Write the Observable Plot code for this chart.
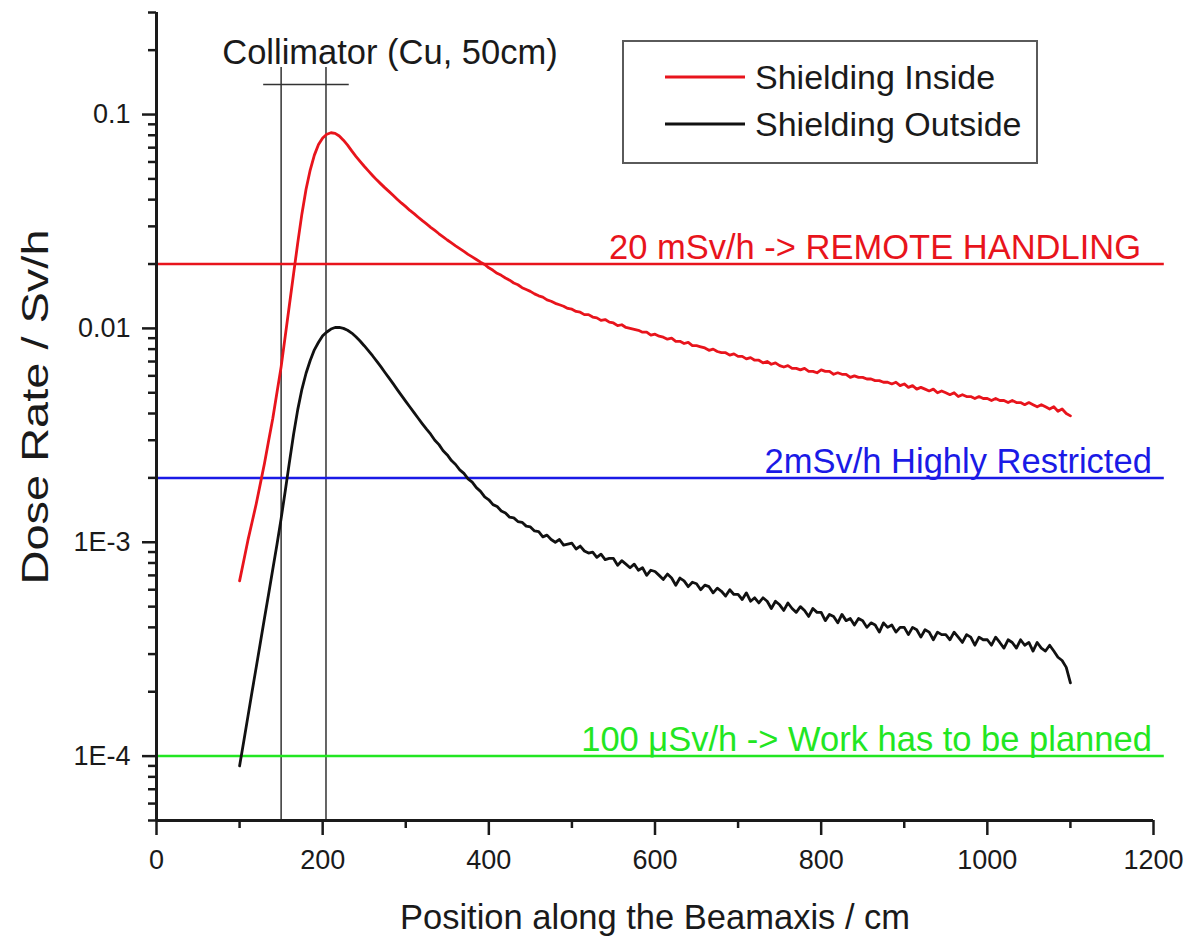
<!DOCTYPE html>
<html>
<head>
<meta charset="utf-8">
<script src="https://cdn.jsdelivr.net/npm/d3@7"></script>
<script src="https://cdn.jsdelivr.net/npm/@observablehq/plot@0.6"></script>
<style>
  html, body { margin: 0; padding: 0; background: #fff; overflow: hidden; }
  #chart svg { display: block; }
</style>
</head>
<body>
<div id="chart"></div>
<script>
// Sampling positions along the beam axis (cm)
const positions = [
  100,105,110,115,120,125,130,135,140,145,150,155,160,165,170,175,180,185,190,195,
  200,205,210,215,220,225,230,235,240,245,250,255,260,265,270,275,280,285,290,295,
  300,305,310,315,320,325,330,335,340,345,350,355,360,365,370,375,380,385,390,395,
  400,405,410,415,420,425,430,435,440,445,450,455,460,465,470,475,480,485,490,495,
  500,505,510,515,520,525,530,535,540,545,550,555,560,565,570,575,580,585,590,595,
  600,605,610,615,620,625,630,635,640,645,650,655,660,665,670,675,680,685,690,695,
  700,705,710,715,720,725,730,735,740,745,750,755,760,765,770,775,780,785,790,795,
  800,805,810,815,820,825,830,835,840,845,850,855,860,865,870,875,880,885,890,895,
  900,905,910,915,920,925,930,935,940,945,950,955,960,965,970,975,980,985,990,995,
  1000,1005,1010,1015,1020,1025,1030,1035,1040,1045,1050,1055,1060,1065,1070,1075,1080,1085,1090,1095,
  1100
];

// Dose rate (Sv/h) with the shielding inside
const insideDose = [
  0.00066,0.00082,0.00102,0.00124,0.00151,0.00188,0.00234,0.00299,0.00380,0.00501,
  0.00661,0.00923,0.0129,0.0180,0.0251,0.0343,0.0447,0.0550,0.0646,0.0724,
  0.0776,0.0809,0.0822,0.0817,0.0794,0.0759,0.0719,0.0676,0.0638,0.0604,
  0.0573,0.0545,0.0519,0.0495,0.0474,0.0454,0.0436,0.0418,0.0401,0.0385,
  0.0371,0.0356,0.0344,0.0331,0.0319,0.0308,0.0297,0.0287,0.0277,0.0268,
  0.0259,0.0251,0.0243,0.0236,0.0229,0.0222,0.0216,0.0210,0.0204,0.0199,
  0.0192,0.0187,0.0181,0.0177,0.0172,0.0168,0.0163,0.0160,0.0155,0.0152,
  0.0149,0.0145,0.0142,0.0140,0.0136,0.0134,0.0131,0.0129,0.0127,0.0124,
  0.0123,0.0120,0.0119,0.0116,0.0116,0.0113,0.0112,0.0109,0.0110,0.0107,
  0.0106,0.0103,0.0104,0.0101,0.0100,0.0099,0.0098,0.0096,0.0096,0.0093,
  0.0094,0.0092,0.0091,0.0089,0.0090,0.0087,0.0087,0.0085,0.0086,0.0083,
  0.0083,0.0082,0.0081,0.0079,0.0080,0.0078,0.0077,0.0077,0.0075,0.0076,
  0.0074,0.0074,0.0072,0.0073,0.0071,0.0071,0.0069,0.0070,0.0068,0.0069,
  0.0067,0.0066,0.0067,0.0065,0.0065,0.0064,0.0065,0.0063,0.0063,0.0062,
  0.0064,0.0063,0.0063,0.0061,0.0062,0.0061,0.0061,0.0059,0.0060,0.0059,
  0.0059,0.0058,0.0058,0.0057,0.0057,0.0056,0.0056,0.0055,0.0056,0.0054,
  0.0055,0.0053,0.0054,0.0052,0.0053,0.0052,0.0051,0.0052,0.0050,0.0051,
  0.0050,0.0049,0.0050,0.0048,0.0049,0.0048,0.0048,0.0047,0.0048,0.0047,
  0.0047,0.0046,0.0047,0.0046,0.0046,0.0045,0.0046,0.0045,0.0045,0.0044,
  0.0045,0.0044,0.0043,0.0044,0.0043,0.0042,0.0043,0.0041,0.0042,0.0040,
  0.0039
];

// Dose rate (Sv/h) with the shielding outside
const outsideDose = [
  0.000090,0.000117,0.000153,0.000200,0.000260,0.000339,0.000442,0.000575,0.000750,0.000977,
  0.00129,0.00174,0.00237,0.00320,0.00417,0.00519,0.00617,0.00708,0.00794,0.00861,
  0.00923,0.00962,0.00993,0.0101,0.0101,0.0100,0.00980,0.00951,0.00914,0.00873,
  0.00830,0.00787,0.00745,0.00703,0.00662,0.00622,0.00585,0.00550,0.00516,0.00485,
  0.00456,0.00429,0.00404,0.00380,0.00358,0.00338,0.00320,0.00300,0.00286,0.00268,
  0.00256,0.00241,0.00231,0.00218,0.00210,0.00198,0.00191,0.00180,0.00173,0.00163,
  0.00158,0.00150,0.00147,0.00140,0.00137,0.00131,0.00130,0.00125,0.00124,0.00119,
  0.00118,0.00113,0.00112,0.00106,0.00108,0.00103,0.00100,0.00103,0.00097,0.00098,
  0.00099,0.00093,0.00096,0.00091,0.00089,0.00090,0.00085,0.00088,0.00083,0.00084,
  0.00084,0.00078,0.00082,0.00079,0.00076,0.00079,0.00074,0.00076,0.00070,0.00074,
  0.00073,0.00070,0.00067,0.00071,0.00068,0.00063,0.00068,0.00066,0.00062,0.00065,
  0.00064,0.00060,0.00063,0.00062,0.00058,0.00061,0.00059,0.00056,0.00060,0.00057,
  0.00057,0.00054,0.00058,0.00053,0.00055,0.00052,0.00055,0.00053,0.00049,0.00053,
  0.00051,0.00048,0.00052,0.00049,0.00047,0.00050,0.00048,0.00045,0.00049,0.00047,
  0.00047,0.00043,0.00046,0.00045,0.00042,0.00046,0.00043,0.00044,0.00041,0.00044,
  0.00043,0.00040,0.00042,0.00041,0.00038,0.00042,0.00040,0.00041,0.00038,0.00040,
  0.00040,0.00037,0.00040,0.00039,0.00036,0.00039,0.00038,0.00035,0.00038,0.00037,
  0.00037,0.00035,0.00038,0.00036,0.00034,0.00037,0.00036,0.00033,0.00036,0.00035,
  0.00035,0.00033,0.00036,0.00034,0.00032,0.00035,0.00034,0.00032,0.00035,0.00033,
  0.00034,0.00031,0.00034,0.00032,0.00031,0.00033,0.00031,0.00029,0.00028,0.00026,
  0.00022
];

const seriesNames = ["Shielding Inside", "Shielding Outside"];
const seriesColors = ["#e8141c", "#111111"];

// Dose-rate limits drawn as horizontal reference lines
const limitValues = [0.02, 0.002, 0.0001];
const limitLabels = ["20 mSv/h -> REMOTE HANDLING", "2mSv/h Highly Restricted", "100 \u03bcSv/h -> Work has to be planned"];
const limitColors = ["#e8141c", "#1a1ae6", "#22e622"];
const limitLabelEnds = [1185, 1198, 1198];
const limitSpan = [0, 1213];

// Copper collimator (50 cm) marker
const collimatorEdges = [150, 204];
const collimatorTop = 0.166;
const collimatorBar = {y: 0.138, x1: 129, x2: 232};
const collimatorLabel = {text: "Collimator (Cu, 50cm)", x: 281, y: 0.173};

// Axes
const xDomain = [0, 1200];
const yDomain = [5e-5, 0.3];
const xMajorTicks = [0, 200, 400, 600, 800, 1000, 1200];
const xMinorTicks = [100, 300, 500, 700, 900, 1100];
const yMajorTicks = [0.1, 0.01, 0.001, 0.0001];
const yTickLabels = ["0.1", "0.01", "1E-3", "1E-4"];
const yMinorTicks = [
  0.3, 0.2,
  0.09, 0.08, 0.07, 0.06, 0.05, 0.04, 0.03, 0.02,
  0.009, 0.008, 0.007, 0.006, 0.005, 0.004, 0.003, 0.002,
  0.0009, 0.0008, 0.0007, 0.0006, 0.0005, 0.0004, 0.0003, 0.0002,
  0.00009, 0.00008, 0.00007, 0.00006, 0.00005
];
const xTitle = "Position along the Beamaxis / cm";
const yTitle = "Dose Rate / Sv/h";

const FONT = "'Liberation Sans', Arial, Helvetica, sans-serif";
const INK = "#1a1a1a";
const LABEL_SIZE = 34.5;

const insideRows = positions.map((p, i) => ({position: p, dose: insideDose[i]}));
const outsideRows = positions.map((p, i) => ({position: p, dose: outsideDose[i]}));

// Legend box in the upper right of the frame
function legend() {
  const g = d3.create("svg:g").attr("font-family", FONT).attr("text-anchor", "start");
  g.append("rect")
    .attr("x", 623).attr("y", 41).attr("width", 414).attr("height", 122)
    .attr("fill", "#fff").attr("stroke", "#5a5a5a").attr("stroke-width", 2);
  seriesNames.forEach((name, i) => {
    const cy = 77 + i * 47;
    g.append("line")
      .attr("x1", 665).attr("x2", 745).attr("y1", cy).attr("y2", cy)
      .attr("stroke", seriesColors[i]).attr("stroke-width", 3);
    g.append("text")
      .attr("x", 755).attr("y", cy).attr("dy", "0.36em")
      .attr("font-size", 34).attr("fill", INK)
      .text(name);
  });
  return g.node();
}

// Rotated title of the dose-rate axis
function yAxisTitle() {
  return d3.create("svg:text")
    .attr("transform", "translate(48,407) rotate(-90)")
    .attr("text-anchor", "middle")
    .attr("font-family", FONT)
    .attr("font-size", 37)
    .attr("textLength", 355)
    .attr("lengthAdjust", "spacingAndGlyphs")
    .attr("fill", INK)
    .text(yTitle)
    .node();
}

const chart = Plot.plot({
  width: 1192,
  height: 939,
  marginLeft: 156,
  marginRight: 39,
  marginTop: 12,
  marginBottom: 119,
  style: {fontFamily: FONT, fontSize: "27px", background: "#fff", overflow: "visible"},
  x: {domain: xDomain, label: null},
  y: {type: "log", domain: yDomain, label: null},
  marks: [
    // collimator edges and bar
    Plot.ruleX(collimatorEdges, {y1: () => yDomain[0], y2: () => collimatorTop, stroke: "#333", strokeWidth: 1.5}),
    Plot.ruleY([collimatorBar], {y: "y", x1: "x1", x2: "x2", stroke: "#333", strokeWidth: 1.5}),
    Plot.text([collimatorLabel], {x: "x", y: "y", text: "text", lineAnchor: "bottom", fontSize: LABEL_SIZE, fill: INK}),

    // dose-rate limits
    ...limitValues.map((v, i) => Plot.ruleY([v], {x1: () => limitSpan[0], x2: () => limitSpan[1], stroke: limitColors[i], strokeWidth: 2.5})),
    ...limitValues.map((v, i) => Plot.text([limitLabels[i]], {
      x: () => limitLabelEnds[i], y: () => v, text: d => d,
      textAnchor: "end", lineAnchor: "bottom", dy: -5, fontSize: LABEL_SIZE, fill: limitColors[i]
    })),

    // dose-rate profiles
    Plot.line(insideRows, {x: "position", y: "dose", stroke: seriesColors[0], strokeWidth: 2.8}),
    Plot.line(outsideRows, {x: "position", y: "dose", stroke: seriesColors[1], strokeWidth: 2.8}),

    // axes
    Plot.axisX({ticks: xMajorTicks, tickSize: 15, tickPadding: 14, strokeWidth: 2.5, color: INK, fontSize: 27,
      tickFormat: d => String(d), label: null}),
    Plot.axisX({ticks: xMinorTicks, tickSize: 8, strokeWidth: 2.5, color: INK, tickFormat: () => "", label: null}),
    Plot.axisY({ticks: yMajorTicks, tickSize: 14, tickPadding: 12, strokeWidth: 2.5, color: INK, fontSize: 27,
      tickFormat: d => yTickLabels[yMajorTicks.indexOf(d)], label: null}),
    Plot.axisY({ticks: yMinorTicks, tickSize: 8, strokeWidth: 2.5, color: INK, tickFormat: () => "", label: null}),
    Plot.ruleX([0], {y1: () => yDomain[0], y2: () => yDomain[1], stroke: INK, strokeWidth: 3}),
    Plot.ruleY([yDomain[0]], {x1: () => xDomain[0], x2: () => xDomain[1], stroke: INK, strokeWidth: 3}),

    // axis titles
    Plot.text([xTitle], {frameAnchor: "bottom", dy: 108, lineAnchor: "bottom", fontSize: LABEL_SIZE, fill: INK}),
    yAxisTitle,

    legend
  ]
});

document.getElementById("chart").append(chart);
</script>
</body>
</html>
